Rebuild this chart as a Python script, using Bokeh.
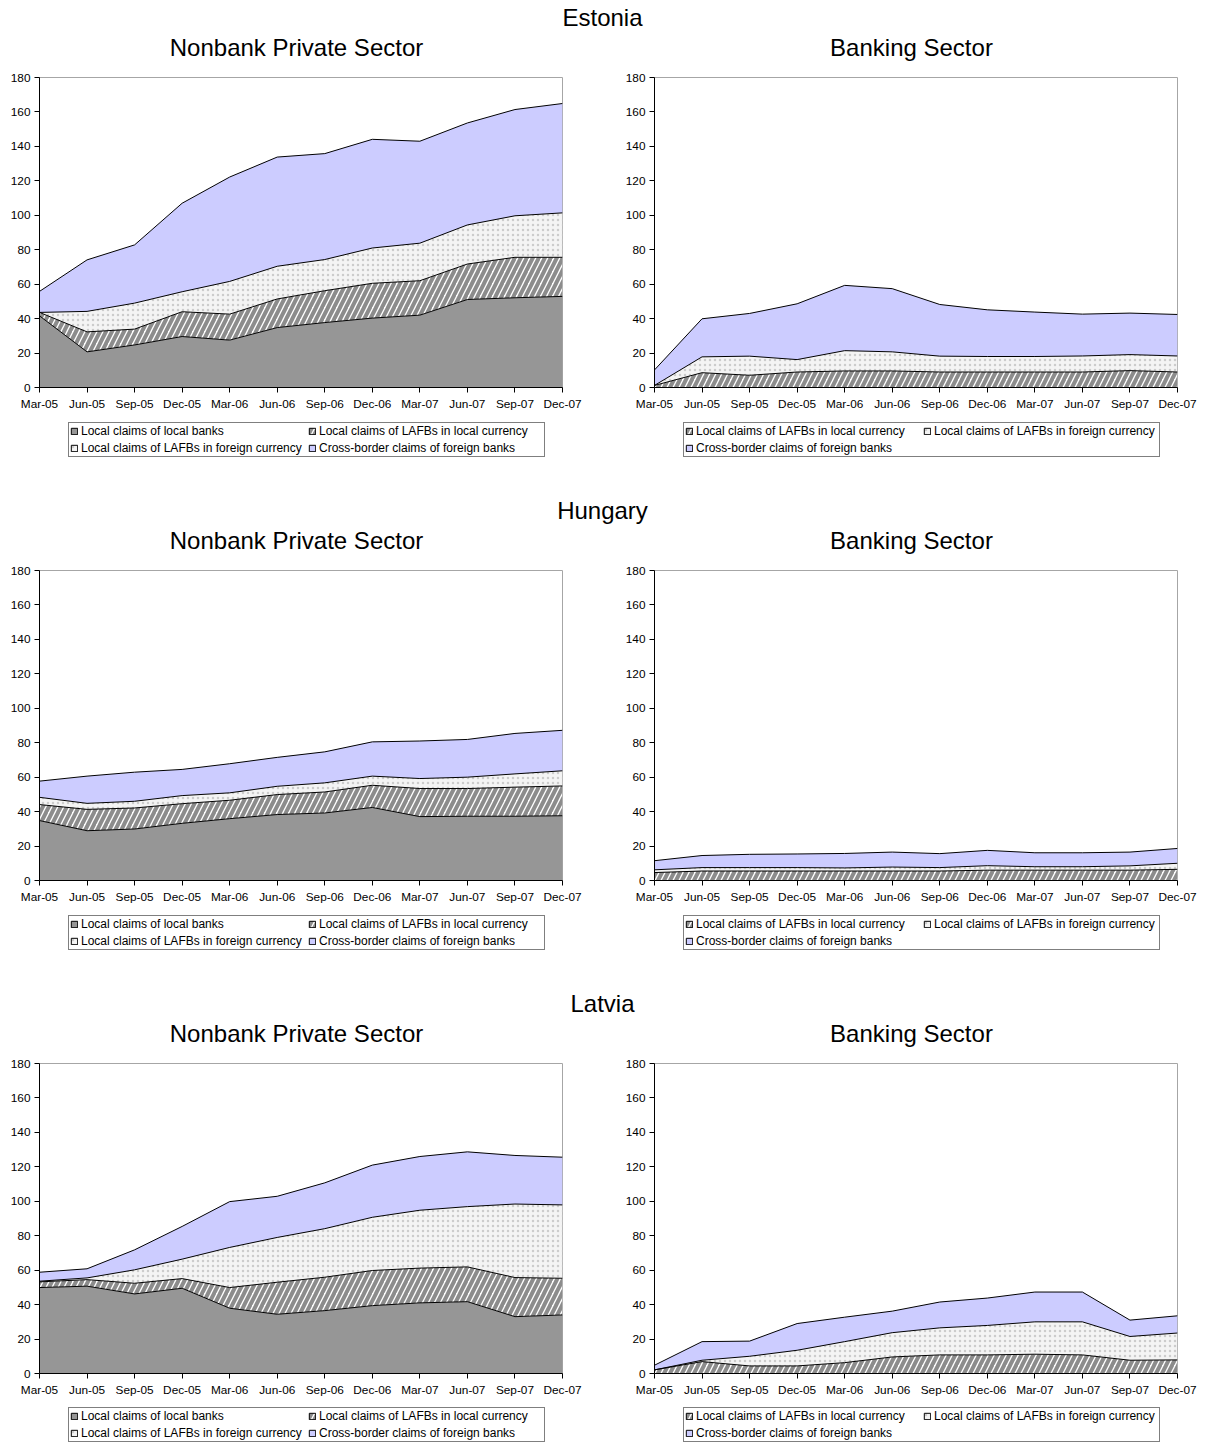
import numpy as np
from bokeh.plotting import figure
from bokeh.models import Div, Legend, LegendItem, FixedTicker, Range1d
from bokeh.layouts import column, row
from bokeh.embed import file_html
from bokeh.resources import INLINE

FONT = "Liberation Sans"

quarters = ["Mar-05", "Jun-05", "Sep-05", "Dec-05", "Mar-06", "Jun-06",
            "Sep-06", "Dec-06", "Mar-07", "Jun-07", "Sep-07", "Dec-07"]
y_ticks = [0, 20, 40, 60, 80, 100, 120, 140, 160, 180]

# ---- Estonia ----
est_nb_local_banks = [41.6, 20.7, 24.7, 29.6, 27.5, 34.8, 37.7, 40.3, 42.0, 51.1, 52.1, 52.9]
est_nb_lafb_local = [2.0, 11.6, 9.2, 14.4, 15.1, 16.6, 18.5, 20.2, 20.0, 20.6, 23.5, 22.7]
est_nb_lafb_foreign = [0.0, 11.9, 15.1, 11.6, 19.0, 19.0, 18.1, 20.5, 21.8, 22.7, 24.1, 25.8]
est_nb_cross = [12.2, 29.9, 33.8, 51.4, 60.6, 63.4, 61.5, 63.1, 59.2, 59.2, 61.7, 63.5]

est_bk_lafb_local = [1.2, 8.6, 7.1, 9.0, 9.6, 9.6, 9.0, 9.0, 9.0, 9.0, 9.8, 9.0]
est_bk_lafb_foreign = [0.0, 9.2, 11.1, 7.2, 11.8, 11.1, 9.2, 9.0, 9.0, 9.3, 9.3, 9.3]
est_bk_cross = [9.0, 22.1, 24.8, 32.4, 37.9, 36.7, 30.0, 27.1, 25.8, 24.3, 24.1, 24.1]

# ---- Hungary ----
hun_nb_local_banks = [34.8, 28.9, 29.9, 33.2, 35.9, 38.3, 39.2, 42.4, 37.1, 37.3, 37.3, 37.6]
hun_nb_lafb_local = [9.3, 12.4, 12.2, 11.4, 10.7, 11.6, 12.2, 12.9, 16.3, 16.1, 16.9, 17.3]
hun_nb_lafb_foreign = [4.2, 3.5, 3.9, 4.7, 4.3, 4.8, 5.3, 5.3, 5.8, 6.6, 7.7, 8.8]
hun_nb_cross = [9.4, 15.8, 16.9, 15.2, 16.9, 16.8, 18.0, 19.9, 21.8, 21.9, 23.5, 23.5]

hun_bk_lafb_local = [4.6, 5.5, 5.5, 5.5, 5.5, 5.5, 5.5, 6.0, 6.0, 6.0, 6.0, 6.5]
hun_bk_lafb_foreign = [1.6, 2.0, 2.0, 2.0, 1.8, 2.3, 2.0, 2.6, 2.0, 2.0, 2.5, 3.5]
hun_bk_cross = [5.3, 7.0, 7.7, 7.9, 8.4, 8.7, 8.1, 8.9, 8.1, 8.1, 8.0, 8.6]

# ---- Latvia ----
lat_nb_local_banks = [49.9, 50.7, 46.2, 49.5, 37.9, 34.4, 36.5, 39.4, 41.0, 41.7, 33.0, 34.0]
lat_nb_lafb_local = [3.3, 3.8, 6.2, 5.6, 12.0, 18.6, 19.4, 20.4, 20.2, 20.2, 22.7, 21.3]
lat_nb_lafb_foreign = [0.4, 1.0, 7.8, 11.3, 23.3, 26.0, 28.2, 30.9, 33.6, 35.0, 42.7, 42.6]
lat_nb_cross = [5.2, 5.3, 11.6, 19.0, 26.6, 23.9, 26.6, 30.3, 31.2, 31.8, 28.2, 27.7]

lat_bk_lafb_local = [2.1, 6.9, 4.4, 4.4, 6.3, 9.6, 10.8, 10.8, 11.2, 10.8, 7.7, 7.9]
lat_bk_lafb_foreign = [0.0, 0.8, 5.6, 9.1, 12.2, 14.1, 15.7, 17.1, 18.8, 19.2, 13.8, 15.6]
lat_bk_cross = [2.7, 10.8, 8.8, 15.5, 14.2, 12.5, 15.0, 15.9, 17.3, 17.3, 9.5, 10.0]

LABELS = {
    "local_banks": "Local claims of local banks",
    "lafb_local": "Local claims of LAFBs in local currency",
    "lafb_foreign": "Local claims of LAFBs in foreign currency",
    "cross": "Cross-border claims of foreign banks",
}
STYLES = {
    "local_banks": dict(fill_color="#969696"),
    "lafb_local": dict(fill_color="white", hatch_pattern="right_diagonal_line",
                       hatch_color="#8c8c8c", hatch_scale=12, hatch_weight=4),
    "lafb_foreign": dict(fill_color="#f4f4f4", hatch_pattern="dot",
                         hatch_color="#cccccc", hatch_scale=5, hatch_weight=1.2),
    "cross": dict(fill_color="#ccccff"),
}
TICK_FONT_SIZE = "11.8px"
LEGEND_FONT_SIZE = "12px"


def stacks(series):
    x = np.arange(len(quarters))
    base = np.zeros(len(quarters))
    out = []
    for key, vals in series:
        top = base + np.array(vals, dtype=float)
        out.append((key, x, base, top))
        base = top
    return out


def make_panel(series, left_b, right_b):
    p = figure(frame_width=523, frame_height=310,
               min_border_left=left_b, min_border_right=right_b,
               min_border_top=10, min_border_bottom=30,
               x_range=Range1d(0, 11), y_range=Range1d(0, 180),
               output_backend="svg", toolbar_location=None)
    p.xgrid.visible = False
    p.ygrid.visible = False
    p.outline_line_color = "#a6a6a6"
    p.background_fill_color = "white"
    p.border_fill_color = "white"

    for ax in (p.xaxis, p.yaxis):
        ax.axis_line_color = "black"
        ax.major_tick_line_color = "black"
        ax.minor_tick_line_color = None
        ax.major_tick_in = 0
        ax.major_tick_out = 5
        ax.major_label_text_font = FONT
        ax.major_label_text_font_size = TICK_FONT_SIZE
        ax.major_label_text_color = "black"
    p.xaxis.ticker = FixedTicker(ticks=list(range(len(quarters))))
    p.xaxis.major_label_overrides = {i: q for i, q in enumerate(quarters)}
    p.xaxis.major_label_standoff = 4
    p.yaxis.ticker = FixedTicker(ticks=y_ticks)
    p.yaxis.major_label_standoff = 4

    layers = stacks(series)
    for key, x, lo, hi in layers:
        p.varea(x=x, y1=lo, y2=hi, **STYLES[key])
    for key, x, lo, hi in layers:
        p.line(x, hi, line_color="black", line_width=1)
    return p


def legend_fig(series, width, height, loc):
    # x_range lies left of all data so that the proxy quads stay out of view;
    # only their legend swatches are shown.
    lf = figure(frame_width=width, frame_height=height, min_border=0,
                x_axis_type=None, y_axis_type=None,
                x_range=Range1d(-2, -1), y_range=Range1d(0, 1),
                output_backend="svg", toolbar_location=None)
    lf.outline_line_color = None
    lf.background_fill_color = "white"
    lf.border_fill_color = "white"
    items = []
    for key, x, lo, hi in stacks(series):
        r = lf.quad(left=x, right=x + 1, bottom=lo, top=hi, line_color="black",
                    line_width=1, **STYLES[key])
        items.append(LegendItem(label=LABELS[key], renderers=[r]))
    legend = Legend(items=items, location=loc, orientation="horizontal",
                    ncols=2, padding=1, spacing=3, margin=0,
                    label_height=13, label_width=224, label_standoff=3,
                    glyph_height=8, glyph_width=8,
                    label_text_font=FONT, label_text_font_size=LEGEND_FONT_SIZE,
                    label_text_color="black",
                    border_line_color="black", border_line_width=1,
                    background_fill_color="white", background_fill_alpha=1.0)
    lf.add_layout(legend)
    return lf


def header_div(country, left_title, right_title):
    base = ("position:absolute;line-height:24px;font-size:24px;"
            "text-align:center;white-space:nowrap;")
    html = (
        f'<div style="position:relative;width:1199px;height:67px;'
        f'font-family:\'{FONT}\';color:black;">'
        f'<div style="{base}left:0px;width:1205px;top:6px;">{country}</div>'
        f'<div style="{base}left:35px;width:523px;top:36px;">{left_title}</div>'
        f'<div style="{base}left:650px;width:523px;top:36px;">{right_title}</div>'
        '</div>'
    )
    return Div(text=html, width=1199, height=67, margin=(0, 0, 0, 0))


def nb_series(lb, ll, lf, cb):
    return [("local_banks", lb), ("lafb_local", ll), ("lafb_foreign", lf), ("cross", cb)]


def bk_series(ll, lf, cb):
    return [("lafb_local", ll), ("lafb_foreign", lf), ("cross", cb)]


specs = [
    ("Estonia",
     nb_series(est_nb_local_banks, est_nb_lafb_local, est_nb_lafb_foreign, est_nb_cross),
     bk_series(est_bk_lafb_local, est_bk_lafb_foreign, est_bk_cross), 76, 36),
    ("Hungary",
     nb_series(hun_nb_local_banks, hun_nb_lafb_local, hun_nb_lafb_foreign, hun_nb_cross),
     bk_series(hun_bk_lafb_local, hun_bk_lafb_foreign, hun_bk_cross), 76, 36),
    ("Latvia",
     nb_series(lat_nb_local_banks, lat_nb_lafb_local, lat_nb_lafb_foreign, lat_nb_cross),
     bk_series(lat_bk_lafb_local, lat_bk_lafb_foreign, lat_bk_cross), 42, 3),
]

blocks = []
for name, nb, bk, leg_h, leg_y in specs:
    left = make_panel(nb, 39, 60)
    right = make_panel(bk, 30, 24)
    left_leg = legend_fig(nb, 622, leg_h, (68, leg_y))
    right_leg = legend_fig(bk, 577, leg_h, (61, leg_y))
    blocks.append(header_div(name, "Nonbank Private Sector", "Banking Sector"))
    blocks.append(row(column(left, left_leg, spacing=0),
                      column(right, right_leg, spacing=0), spacing=0))

layout = column(*blocks, spacing=0)

open("out.html", "w").write(file_html(layout, INLINE, title="Claims"))
